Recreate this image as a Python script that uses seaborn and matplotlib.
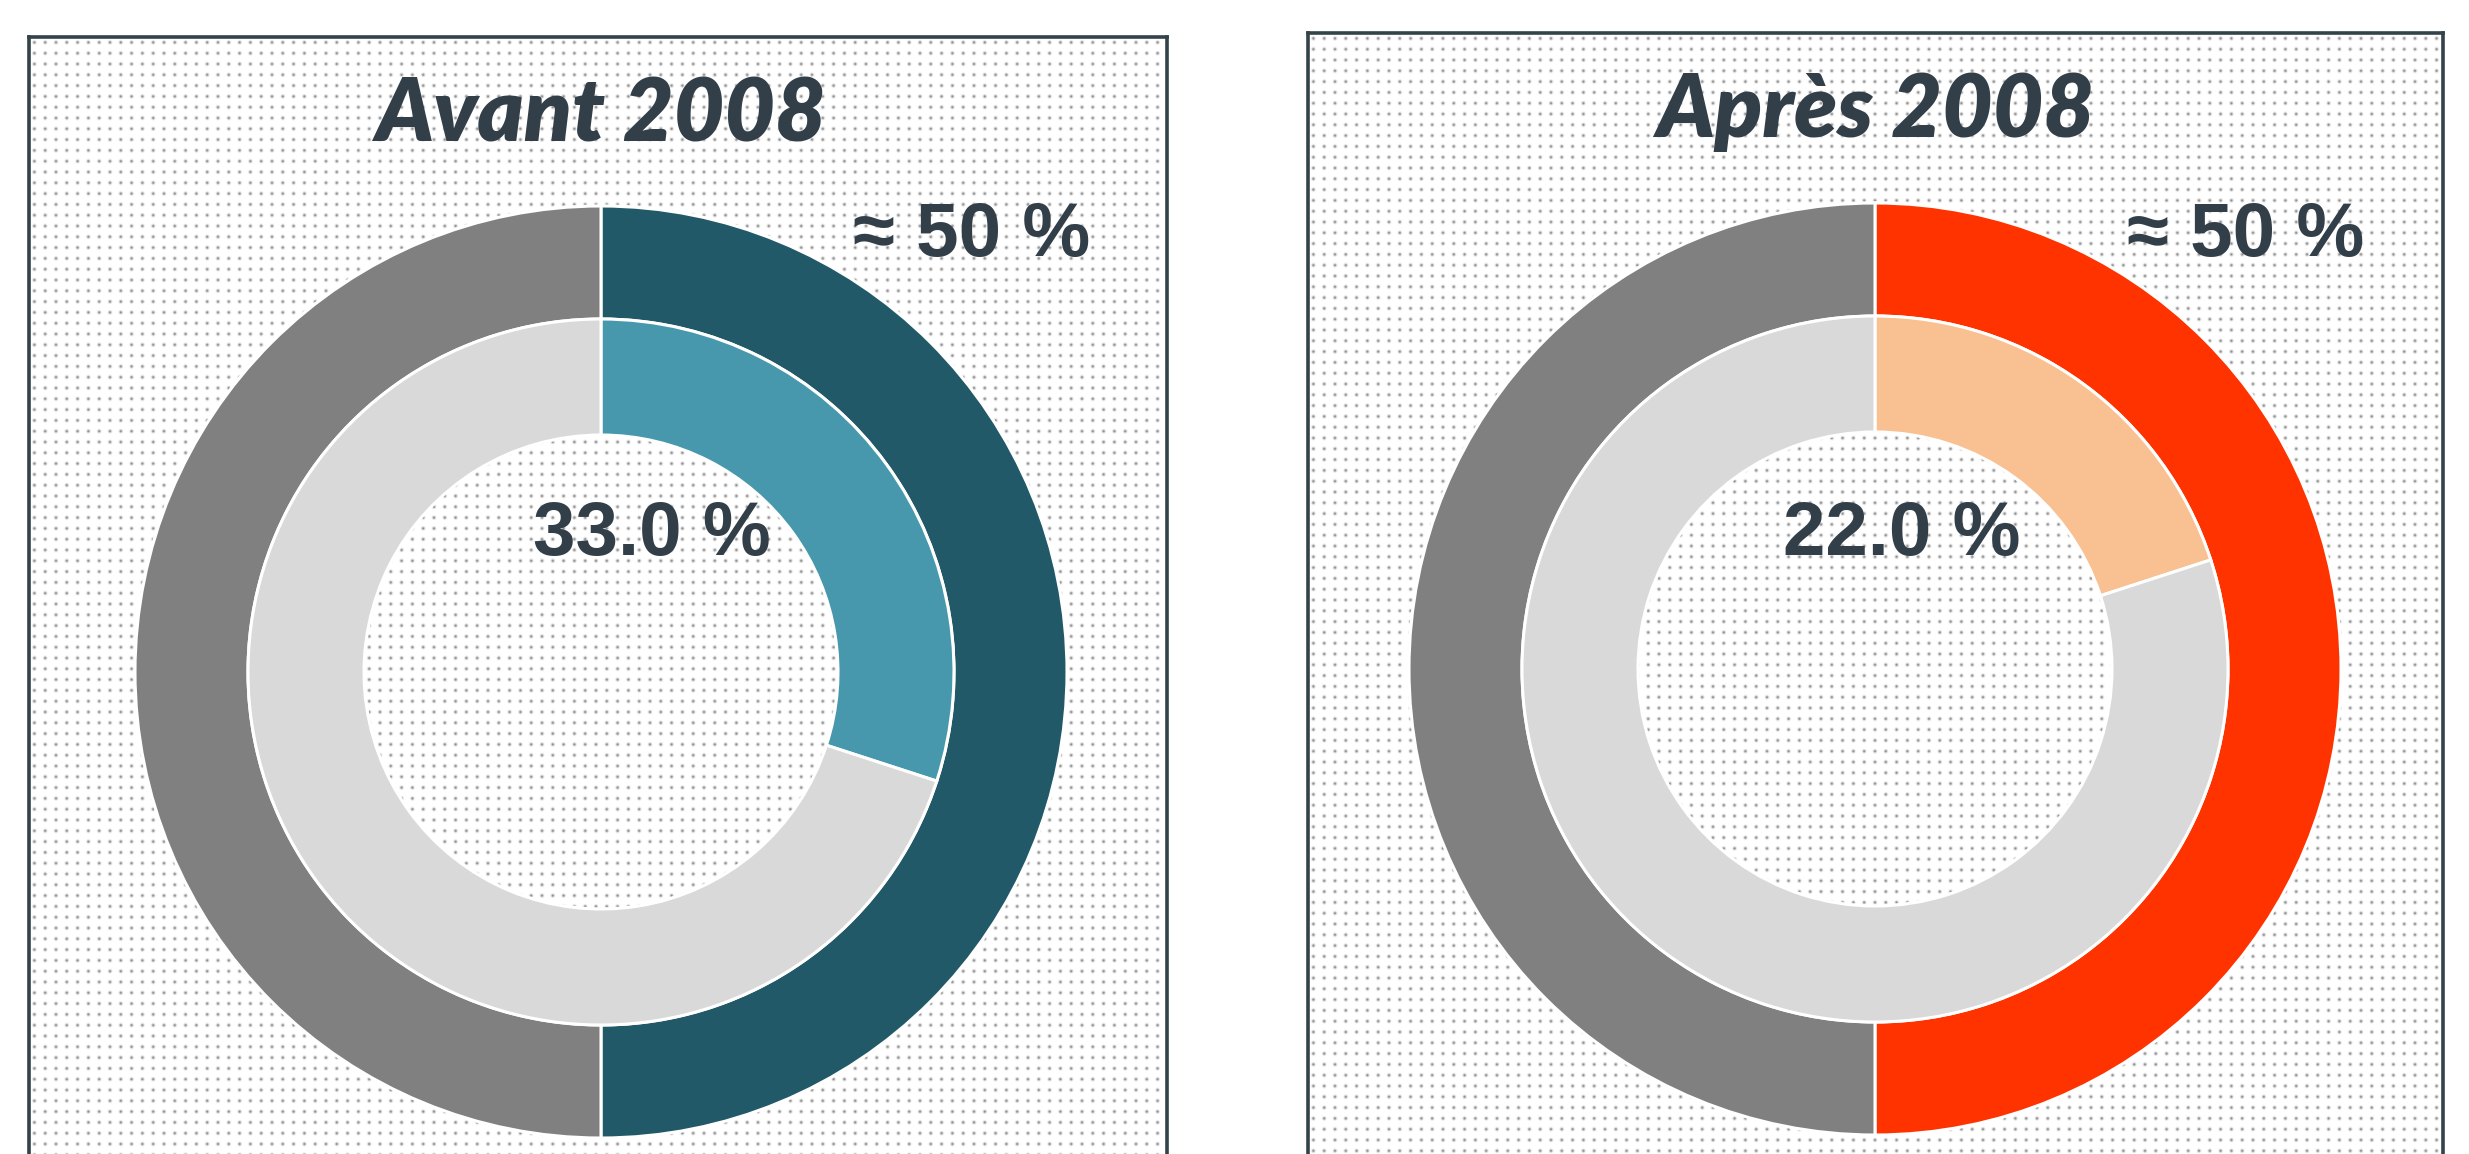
import matplotlib
matplotlib.use('Agg')
import numpy as np
import matplotlib.pyplot as plt
import seaborn as sns

# données
periods = ['Avant 2008', 'Après 2008']
outer_shares = [50, 50]            # anneau extérieur : part colorée / reste
outer_labels = ['≈ 50 %', '≈ 50 %']
inner_shares = [30, 20]            # anneau intérieur : part colorée dessinée
inner_labels = ['33.0 %', '22.0 %']

outer_colors = ['#215968', '#FF3300']
inner_colors = ['#4798AC', '#F9C192']
outer_rest = '#808080'
inner_rest = '#D9D9D9'
text_color = '#333F48'

W, H = 2469, 1154
DPI = 100

sns.set_theme(style='white')
plt.rcParams['font.family'] = ['Liberation Sans Narrow', 'Liberation Sans', 'DejaVu Sans']

fig = plt.figure(figsize=(W / DPI, H / DPI), dpi=DPI)
fig.patch.set_facecolor('white')

# panneaux en pixels (x0, x1, haut), y vers le bas
panels = [(29, 1167, 37), (1308, 2443, 33)]
centers = [(601, 672), (1875, 669)]
R_OUT, R_MID, R_IN = 466, 353, 237


def dot_texture(w, h, period=10.8):
    xx = np.arange(w) + 0.5
    yy = np.arange(h) + 0.5
    dx = (xx % period) - period / 2
    dy = (yy % period) - period / 2
    d2 = dy[:, None] ** 2 + dx[None, :] ** 2
    return 1 - 0.45 * np.exp(-d2 / (2 * 1.1 ** 2))


for i, period in enumerate(periods):
    x0, x1, top = panels[i]
    bottom = H + 20
    ax = fig.add_axes([x0 / W, 1 - bottom / H, (x1 - x0) / W, (bottom - top) / H])
    xlim = (x0, x1)
    ylim = (H - bottom, H - top)

    tex = dot_texture(x1 - x0, bottom - top)
    ax.imshow(tex, cmap='gray', vmin=0, vmax=1, interpolation='nearest',
              extent=(x0, x1, ylim[0], ylim[1]), zorder=0)

    cx, cy = centers[i]
    c = (cx, H - cy)
    ax.pie([outer_shares[0], 100 - outer_shares[0]],
           colors=[outer_colors[i], outer_rest], startangle=90, counterclock=False,
           center=c, radius=R_OUT,
           wedgeprops=dict(width=R_OUT - R_MID, edgecolor='white', linewidth=2.2))
    ax.pie([inner_shares[i], 100 - inner_shares[i]],
           colors=[inner_colors[i], inner_rest], startangle=90, counterclock=False,
           center=c, radius=R_MID,
           wedgeprops=dict(width=R_MID - R_IN, edgecolor='white', linewidth=2.2))

    ax.set_xlim(*xlim)
    ax.set_ylim(*ylim)
    ax.set_aspect('auto')
    ax.set_xticks([])
    ax.set_yticks([])
    ax.set_frame_on(True)
    for s in ax.spines.values():
        s.set_visible(True)
        s.set_color('#34434A')
        s.set_linewidth(2.6)

    ax.text(cx, H - (116 if i == 0 else 111), period, ha='center', va='center',
            fontsize=63, fontweight='heavy', fontstyle='italic',
            family=['Lato', 'DejaVu Sans'], color=text_color)
    ax.text(cx + 371, H - 236, outer_labels[i], ha='center', va='center',
            fontsize=55, fontweight='bold', color=text_color)
    ax.text(cx + 51 if i == 0 else cx + 27, H - 535, inner_labels[i], ha='center', va='center',
            fontsize=55, fontweight='bold', color=text_color)

fig.savefig('out.png', dpi=DPI)
